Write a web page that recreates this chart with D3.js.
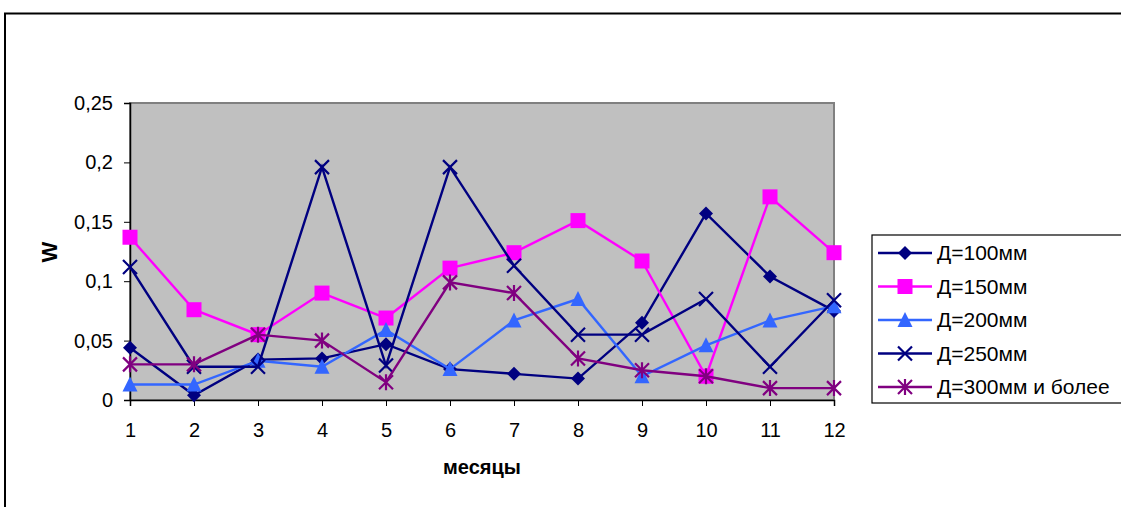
<!DOCTYPE html>
<html>
<head>
<meta charset="utf-8">
<script src="https://cdn.jsdelivr.net/npm/d3@7"></script>
<style>
  html, body { margin: 0; padding: 0; background: #fff; }
  svg { display: block; }
  text { font-family: "Liberation Sans", Arial, sans-serif; }
</style>
</head>
<body>
<svg id="chart" width="1121" height="507"></svg>
<script>
// Months on the category axis
const months = [1, 2, 3, 4, 5, 6, 7, 8, 9, 10, 11, 12];
const yTicks = [0, 0.05, 0.1, 0.15, 0.2, 0.25];
const yTickLabels = ["0", "0,05", "0,1", "0,15", "0,2", "0,25"];

// Series values by month
const d100 = [0.044, 0.004, 0.034, 0.035, 0.047, 0.026, 0.022, 0.018, 0.065, 0.157, 0.104, 0.075];
const d150 = [0.137, 0.076, 0.055, 0.090, 0.069, 0.111, 0.124, 0.151, 0.117, 0.020, 0.171, 0.124];
const d200 = [0.013, 0.013, 0.033, 0.028, 0.059, 0.026, 0.067, 0.085, 0.020, 0.046, 0.067, 0.079];
const d250 = [0.112, 0.028, 0.028, 0.196, 0.029, 0.196, 0.113, 0.055, 0.055, 0.085, 0.028, 0.084];
const d300 = [0.030, 0.030, 0.055, 0.050, 0.015, 0.099, 0.090, 0.035, 0.025, 0.020, 0.010, 0.010];

const seriesNames = ["Д=100мм", "Д=150мм", "Д=200мм", "Д=250мм", "Д=300мм и более"];
const seriesValues = [d100, d150, d200, d250, d300];
const seriesColors = ["#000080", "#FF00FF", "#3366FF", "#000080", "#800080"];
const seriesMarkers = ["diamond", "square", "triangle", "cross", "star"];

const svg = d3.select("#chart");

// Outer chart frame
svg.append("rect")
  .attr("x", 5).attr("y", 13.5)
  .attr("width", 1130).attr("height", 520)
  .attr("fill", "#fff").attr("stroke", "#000").attr("stroke-width", 2);

const plot = { left: 130, top: 103, right: 834, bottom: 400 };

const x = d3.scalePoint().domain(months).range([plot.left, plot.right]);
const y = d3.scaleLinear().domain([0, 0.25]).range([plot.bottom, plot.top]);

// Plot area
svg.append("rect")
  .attr("x", plot.left).attr("y", plot.top)
  .attr("width", plot.right - plot.left).attr("height", plot.bottom - plot.top)
  .attr("fill", "#C0C0C0").attr("stroke", "#808080").attr("stroke-width", 2);

// Y axis
const yAxis = d3.axisLeft(y)
  .tickValues(yTicks)
  .tickFormat((d, i) => yTickLabels[i])
  .tickSize(6).tickPadding(11);
const yg = svg.append("g").attr("transform", `translate(${plot.left},0)`).call(yAxis);
yg.select(".domain").attr("stroke", "#000").attr("stroke-width", 1.5);
yg.selectAll(".tick line").attr("stroke", "#000");
yg.selectAll(".tick text").attr("font-size", 20).attr("fill", "#000")
  .attr("font-family", "'Liberation Sans', Arial, sans-serif");

// X axis
const xAxis = d3.axisBottom(x).tickSize(6).tickPadding(17);
const xg = svg.append("g").attr("transform", `translate(0,${plot.bottom})`).call(xAxis);
xg.select(".domain").attr("stroke", "#000").attr("stroke-width", 1.5);
xg.selectAll(".tick line").attr("stroke", "#000");
xg.selectAll(".tick text").attr("font-size", 20).attr("fill", "#000")
  .attr("dy", "0.71em")
  .attr("font-family", "'Liberation Sans', Arial, sans-serif");

// Axis titles
svg.append("text")
  .attr("x", 482).attr("y", 474)
  .attr("text-anchor", "middle")
  .attr("font-size", 20).attr("font-weight", "bold")
  .text("месяцы");
svg.append("text")
  .attr("transform", "translate(57,252) rotate(-90)")
  .attr("text-anchor", "middle")
  .attr("font-size", 22).attr("font-weight", "bold")
  .text("W");

// Marker drawing
function drawMarker(g, type, color, cx, cy) {
  if (type === "diamond") {
    g.append("path").attr("d", `M${cx},${cy - 7}L${cx + 7},${cy}L${cx},${cy + 7}L${cx - 7},${cy}Z`)
      .attr("fill", color);
  } else if (type === "square") {
    g.append("rect").attr("x", cx - 7.5).attr("y", cy - 7.5).attr("width", 15).attr("height", 15)
      .attr("fill", color);
  } else if (type === "triangle") {
    g.append("path").attr("d", `M${cx},${cy - 8}L${cx + 7.5},${cy + 7}L${cx - 7.5},${cy + 7}Z`)
      .attr("fill", color);
  } else if (type === "cross") {
    g.append("path").attr("d", `M${cx - 7},${cy - 7}L${cx + 7},${cy + 7}M${cx - 7},${cy + 7}L${cx + 7},${cy - 7}`)
      .attr("stroke", color).attr("stroke-width", 2.2).attr("fill", "none");
  } else if (type === "star") {
    g.append("path").attr("d",
      `M${cx - 7},${cy - 7}L${cx + 7},${cy + 7}M${cx - 7},${cy + 7}L${cx + 7},${cy - 7}M${cx},${cy - 8}L${cx},${cy + 8}`)
      .attr("stroke", color).attr("stroke-width", 2.2).attr("fill", "none");
  }
}

const line = d3.line().x((d, i) => x(months[i])).y(d => y(d));

seriesValues.forEach((vals, s) => {
  const g = svg.append("g");
  g.append("path").datum(vals)
    .attr("d", line)
    .attr("fill", "none")
    .attr("stroke", seriesColors[s])
    .attr("stroke-width", 2.4);
  vals.forEach((v, i) => drawMarker(g, seriesMarkers[s], seriesColors[s], x(months[i]), y(v)));
});

// Legend
const legend = svg.append("g");
legend.append("rect")
  .attr("x", 872).attr("y", 235).attr("width", 260).attr("height", 168)
  .attr("fill", "#fff").attr("stroke", "#000").attr("stroke-width", 1.2);
seriesNames.forEach((name, s) => {
  const ly = 253 + s * 33.5;
  legend.append("line")
    .attr("x1", 878).attr("x2", 932).attr("y1", ly).attr("y2", ly)
    .attr("stroke", seriesColors[s]).attr("stroke-width", 2.4);
  drawMarker(legend, seriesMarkers[s], seriesColors[s], 905, ly);
  legend.append("text")
    .attr("x", 937).attr("y", ly + 7)
    .attr("font-size", 21)
    .text(name);
});
</script>
</body>
</html>
